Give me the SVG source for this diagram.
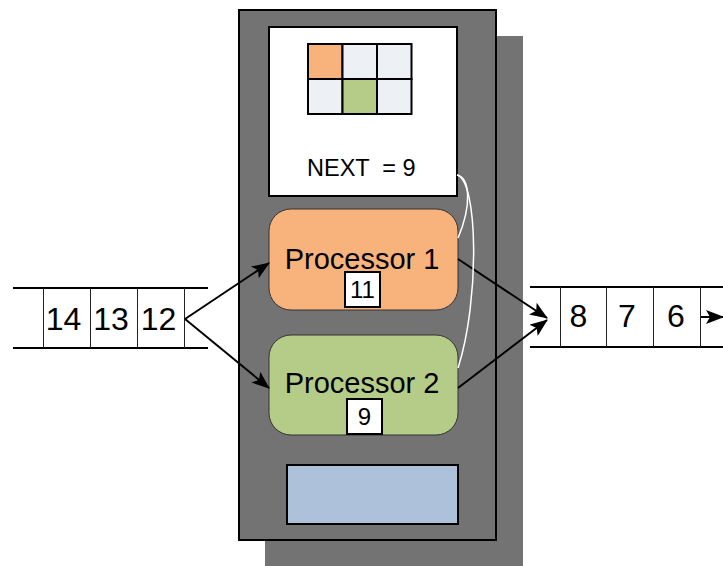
<svg xmlns="http://www.w3.org/2000/svg" width="723" height="566" viewBox="0 0 723 566">
<style>
text{font-family:"Liberation Sans",Arial,sans-serif;fill:#000}
.q{stroke:#000;stroke-width:2}
.v{stroke:#222;stroke-width:1}
.num{font-size:32px;text-anchor:middle}
.proc{stroke:#333;stroke-width:1}
.pt{font-size:29px;text-anchor:middle}
.nb{fill:#fff;stroke:#000;stroke-width:2}
.nt{font-size:24px;text-anchor:middle}
.cell{stroke:#000;stroke-width:2}
.arr{stroke:#000;stroke-width:2;fill:none;marker-end:url(#ah)}
.wc{stroke:#fff;stroke-width:1.5;fill:none}
</style>
<defs>
<marker id="ah" markerUnits="userSpaceOnUse" markerWidth="18" markerHeight="14" refX="17" refY="7" orient="auto">
<path d="M0,0 L18,7 L0,14 L4,7 Z" fill="#000"/>
</marker>
</defs>
<rect width="723" height="566" fill="#fff"/>
<g id="machine">
<rect x="265" y="36" width="258" height="530" fill="#737373"/>
<rect x="239" y="10" width="257" height="530" fill="#737373" stroke="#000" stroke-width="2"/>
</g>
<g id="table">
<rect x="269" y="27" width="188" height="169" fill="#fff" stroke="#000" stroke-width="2"/>
<rect class="cell" x="308" y="44" width="34.5" height="35" fill="#F8B37D"/>
<rect class="cell" x="342.5" y="44" width="34.5" height="35" fill="#EDF0F5"/>
<rect class="cell" x="377" y="44" width="34.5" height="35" fill="#EDF0F5"/>
<rect class="cell" x="308" y="79" width="34.5" height="35" fill="#EDF0F5"/>
<rect class="cell" x="342.5" y="79" width="34.5" height="35" fill="#B5CB88"/>
<rect class="cell" x="377" y="79" width="34.5" height="35" fill="#EDF0F5"/>
<text x="307" y="176" font-size="23.5" xml:space="preserve">NEXT  = 9</text>
</g>
<g id="processor1">
<rect class="proc" x="269" y="209" width="189" height="101" rx="22" fill="#F8B37D"/>
<text class="pt" x="362" y="269">Processor 1</text>
<rect class="nb" x="345" y="272" width="35" height="35"/>
<text class="nt" x="362.5" y="298">11</text>
</g>
<g id="processor2">
<rect class="proc" x="269" y="335" width="189" height="100" rx="22" fill="#B5CB88"/>
<text class="pt" x="362" y="393">Processor 2</text>
<rect class="nb" x="347" y="399" width="35" height="35"/>
<text class="nt" x="364.5" y="425">9</text>
</g>
<g id="buffer">
<rect x="287" y="465" width="171" height="59" fill="#ADC2DA" stroke="#000" stroke-width="2"/>
</g>
<g id="input-queue">
<line class="q" x1="13" y1="288" x2="208" y2="288"/>
<line class="q" x1="13" y1="348" x2="208" y2="348"/>
<line class="v" x1="43.5" y1="288" x2="43.5" y2="348"/>
<line class="v" x1="90.5" y1="288" x2="90.5" y2="348"/>
<line class="v" x1="137.5" y1="288" x2="137.5" y2="348"/>
<line class="v" x1="184.5" y1="288" x2="184.5" y2="348"/>
<text class="num" x="63.5" y="330">14</text>
<text class="num" x="111" y="330">13</text>
<text class="num" x="158.5" y="330">12</text>
</g>
<g id="output-queue">
<line class="q" x1="530" y1="287" x2="723" y2="287"/>
<line class="q" x1="530" y1="347" x2="723" y2="347"/>
<line class="v" x1="560.5" y1="287" x2="560.5" y2="347"/>
<line class="v" x1="606.5" y1="287" x2="606.5" y2="347"/>
<line class="v" x1="653.5" y1="287" x2="653.5" y2="347"/>
<line class="v" x1="700.5" y1="287" x2="700.5" y2="347"/>
<text class="num" x="578.5" y="327">8</text>
<text class="num" x="627" y="327">7</text>
<text class="num" x="676" y="327">6</text>
</g>
<g id="connectors">
<line class="arr" x1="185" y1="319" x2="269" y2="263"/>
<line class="arr" x1="185" y1="319" x2="269" y2="388"/>
<line class="arr" x1="458" y1="259" x2="547" y2="318"/>
<line class="arr" x1="458" y1="388" x2="547" y2="320"/>
<line class="arr" x1="701" y1="317" x2="723" y2="317"/>
<path class="wc" d="M457,175 C470,178 472,205 458,238"/>
<path class="wc" d="M457,175 C478,180 480,300 458,368"/>
</g>
</svg>
